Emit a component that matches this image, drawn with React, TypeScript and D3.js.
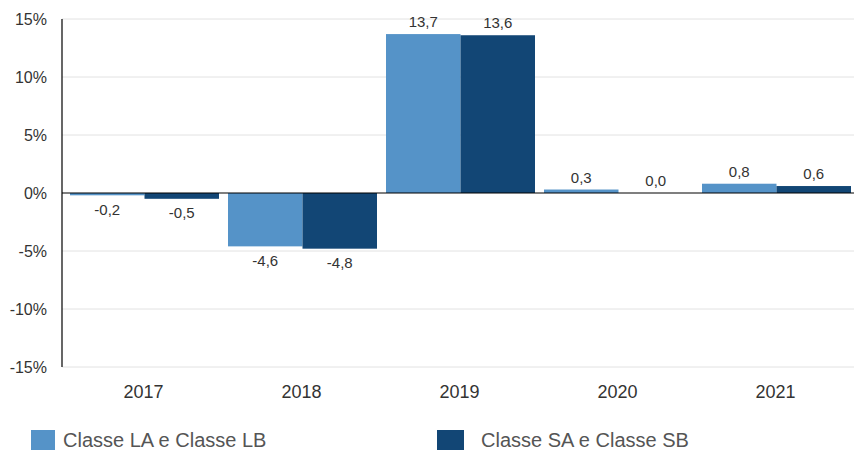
import React from "react";
import * as d3 from "d3";

const categories = ["2017", "2018", "2019", "2020", "2021"];
const seriesNames = ["Classe LA e Classe LB", "Classe SA e Classe SB"];
const seriesL = [-0.2, -4.6, 13.7, 0.3, 0.8];
const seriesS = [-0.5, -4.8, 13.6, 0.0, 0.6];
const yTicks = [15, 10, 5, 0, -5, -10, -15];
const colors = ["#5593C8", "#124675"];

const W = 854;
const H = 450;
const axisX = 62;
const yTop = 19;
const yBottom = 367;

export default function App() {
  const y = d3.scaleLinear().domain([-15, 15]).range([yBottom, yTop]);
  const x = d3.scaleBand<string>().domain(categories).range([65.5, 855.5]).padding(0);
  const groupW = 149;
  const sub = d3.scaleBand<number>().domain([0, 1]).range([0, groupW]).padding(0);
  const series = [seriesL, seriesS];
  const fmt = (v: number) => v.toFixed(1).replace(".", ",");
  const font = "'Liberation Sans', Arial, sans-serif";

  return (
    <svg width={W} height={H} style={{ position: "absolute", left: 0, top: 0, background: "#fff" }} fontFamily={font}>
      {yTicks.filter((t) => t !== 0).map((t) => (
        <line key={"g" + t} x1={axisX} x2={W} y1={y(t)} y2={y(t)} stroke="#e2e2e2" strokeWidth={1} />
      ))}
      {yTicks.map((t) => (
        <text key={"t" + t} x={47} y={y(t)} dy="0.35em" textAnchor="end" fontSize={16} fill="#333">
          {t + "%"}
        </text>
      ))}
      {series.map((vals, si) =>
        vals.map((v, i) => {
          const cx = x(categories[i])! + x.bandwidth() / 2 - groupW / 2 + sub(si)!;
          const y0 = y(0);
          const y1 = y(v);
          return (
            <rect
              key={`b${si}-${i}`}
              x={cx}
              y={Math.min(y0, y1)}
              width={sub.bandwidth()}
              height={Math.abs(y1 - y0)}
              fill={colors[si]}
            />
          );
        })
      )}
      {series.map((vals, si) =>
        vals.map((v, i) => {
          const cx = x(categories[i])! + x.bandwidth() / 2 - groupW / 2 + sub(si)! + sub.bandwidth() / 2;
          const ly = v < 0 ? y(v) + 14 : y(v) - 12;
          return (
            <text key={`l${si}-${i}`} x={cx} y={ly} dy="0.35em" textAnchor="middle" fontSize={15} fill="#333">
              {fmt(v)}
            </text>
          );
        })
      )}
      <line x1={axisX} x2={W} y1={y(0)} y2={y(0)} stroke="#000" strokeWidth={1.2} />
      <line x1={axisX} x2={axisX} y1={yTop} y2={yBottom} stroke="#000" strokeWidth={1.2} />
      {categories.map((c) => (
        <text key={"x" + c} x={x(c)! + x.bandwidth() / 2 - 1} y={392} dy="0.35em" textAnchor="middle" fontSize={18} fill="#333">
          {c}
        </text>
      ))}
      {seriesNames.map((n, i) => {
        const lx = i === 0 ? 31 : 437;
        return (
          <g key={"lg" + i}>
            <rect x={lx} y={430} width={i === 0 ? 24 : 27} height={20} fill={colors[i]} />
            <text x={i === 0 ? 63 : 481} y={440} dy="0.35em" fontSize={20} fill="#555">
              {n}
            </text>
          </g>
        );
      })}
    </svg>
  );
}
